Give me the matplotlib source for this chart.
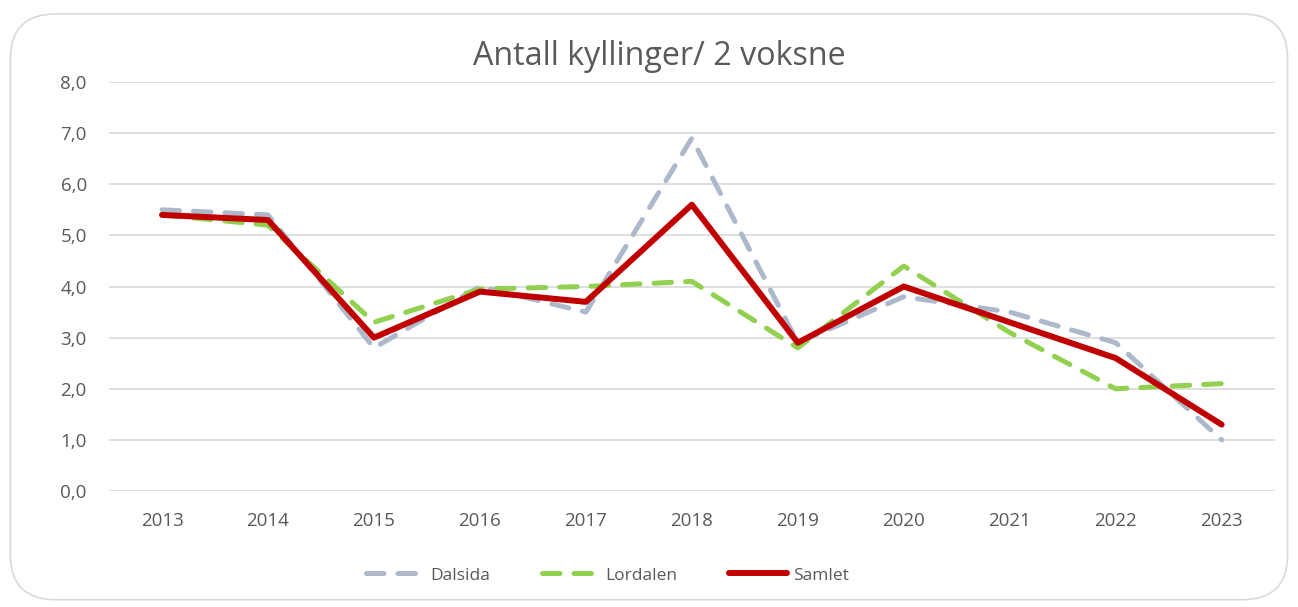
import matplotlib.pyplot as plt
from matplotlib.patches import FancyBboxPatch
from matplotlib.ticker import FuncFormatter

# Data
years = ["2013", "2014", "2015", "2016", "2017", "2018", "2019", "2020", "2021", "2022", "2023"]
dalsida = [5.5, 5.4, 2.8, 4.0, 3.5, 6.9, 2.9, 3.8, 3.5, 2.9, 1.0]
lordalen = [5.4, 5.2, 3.3, 3.95, 4.0, 4.1, 2.8, 4.4, 3.1, 2.0, 2.1]
samlet = [5.4, 5.3, 3.0, 3.9, 3.7, 5.6, 2.9, 4.0, 3.3, 2.6, 1.3]

plt.rcParams['font.family'] = ['Open Sans', 'DejaVu Sans']
text_color = "#595959"

fig = plt.figure(figsize=(12.98, 6.07), dpi=100)

# rounded chart border
border = FancyBboxPatch((0.008, 0.012), 0.984, 0.965,
                        boxstyle="round,pad=0,rounding_size=0.035",
                        transform=fig.transFigure, facecolor="none",
                        edgecolor="#D9D9D9", linewidth=1.2, mutation_aspect=2.1,
                        zorder=-1)
fig.patches.append(border)

ax = fig.add_axes([0.084, 0.191, 0.898, 0.674])
ax.patch.set_alpha(0)
x = list(range(len(years)))

dash = (0, (3.5, 2.8))
ax.plot(x, dalsida, color="#ADB9CA", linewidth=3.6, linestyle=dash,
        dash_capstyle="round", solid_joinstyle="round", label="Dalsida")
ax.plot(x, lordalen, color="#92D050", linewidth=3.6, linestyle=dash,
        dash_capstyle="round", solid_joinstyle="round", label="Lordalen")
ax.plot(x, samlet, color="#C00000", linewidth=4.3, solid_capstyle="round",
        solid_joinstyle="round", label="Samlet")

ax.set_xlim(-0.5, len(years) - 0.5)
ax.set_ylim(0, 8)
ax.set_yticks(range(0, 9))
ax.yaxis.set_major_formatter(FuncFormatter(lambda v, p: f"{v:.1f}".replace(".", ",")))
ax.set_xticks(x)
ax.set_xticklabels(years)
ax.grid(axis="y", color="#D9D9D9", linewidth=1.2)
ax.set_axisbelow(True)
for s in ax.spines.values():
    s.set_visible(False)
ax.tick_params(length=0, labelsize=13.5, colors=text_color)
ax.tick_params(axis="x", pad=15)
ax.tick_params(axis="y", pad=16)

fig.text(0.508, 0.907, "Antall kyllinger/ 2 voksne", ha="center", va="center",
         fontsize=23.2, color=text_color)

leg = fig.legend(loc="center", bbox_to_anchor=(0.468, 0.052), ncol=3, frameon=False,
                 fontsize=12.5, handlelength=3.3, columnspacing=3.0, handletextpad=0.35)
for t in leg.get_texts():
    t.set_color(text_color)

fig.savefig("out.png", dpi=100)
